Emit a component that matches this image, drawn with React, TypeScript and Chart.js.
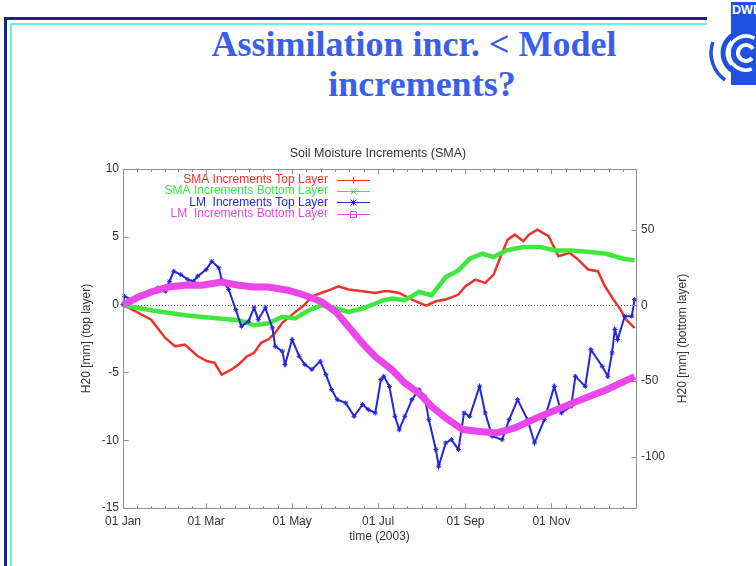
import React, { useEffect, useRef } from "react";
import { Chart, registerables } from "chart.js";

Chart.register(...registerables);

const SLIDE_TITLE_LINE1 = "Assimilation incr. < Model";
const SLIDE_TITLE_LINE2 = "increments?";
const LOGO_TEXT = "DWD";
const CHART_TITLE = "Soil Moisture Increments (SMA)";
const X_TITLE = "time (2003)";
const Y_TITLE = "H20 [mm] (top layer)";
const Y2_TITLE = "H20 [mm] (bottom layer)";

const MONTH_DAYS = [0, 59, 120, 181, 243, 304];
const MONTH_LABELS = ["01 Jan", "01 Mar", "01 May", "01 Jul", "01 Sep", "01 Nov"];
const Y_TICKS = [-15, -10, -5, 0, 5, 10];
const Y2_TICKS = [-100, -50, 0, 50];

const SERIES_LABELS = [
  "SMA Increments Top Layer",
  "SMA Increments Bottom Layer",
  "LM  Increments Top Layer",
  "LM  Increments Bottom Layer",
];

// SMA increments, top layer (left axis, mm)
const SMA_TOP_DAYS = [0, 20, 30, 37, 44, 53, 60, 65, 70, 77, 82, 88, 93, 98, 103, 108, 113, 120, 129, 134, 144, 153, 160, 170, 179, 185, 189, 196, 205, 215, 222, 229, 238, 243, 250, 257, 263, 268, 273, 278, 284, 288, 294, 302, 309, 317, 323, 330, 337, 342, 348, 353, 357, 363];
const SMA_TOP_VALUES = [0, -1.11, -2.46, -3.08, -2.95, -3.81, -4.18, -4.3, -5.16, -4.79, -4.42, -3.81, -3.56, -2.82, -2.58, -2.09, -1.35, -0.74, 0, 0.61, 0.98, 1.35, 1.11, 0.98, 0.86, 0.98, 0.98, 0.86, 0.37, -0.07, 0.24, 0.37, 0.74, 1.35, 1.84, 1.6, 2.21, 3.56, 4.79, 5.16, 4.67, 5.16, 5.53, 5.04, 3.56, 3.81, 3.32, 2.58, 2.46, 1.35, 0.37, -0.37, -1.11, -1.72];

// SMA increments, bottom layer (right axis, mm)
const SMA_BOTTOM_DAYS = [0, 20, 44, 68, 82, 93, 103, 113, 122, 132, 141, 151, 160, 170, 179, 185, 191, 200, 210, 219, 229, 238, 246, 255, 263, 272, 284, 296, 307, 319, 331, 343, 355, 363];
const SMA_BOTTOM_VALUES = [0, -3.3, -6.6, -8.75, -9.9, -13.2, -12, -7.7, -8.75, -3.3, 0, -2.2, -4.4, -2.2, 1.1, 3.3, 4.4, 3.3, 8.75, 6.6, 18.6, 23, 30.7, 34, 31.8, 36.2, 38.4, 38.4, 36.2, 36.2, 35.1, 34, 30.7, 29.6];

// LM increments, top layer (left axis, mm)
const LM_TOP_DAYS = [0, 1, 6, 13, 20, 25, 30, 33, 36, 41, 46, 50, 53, 59, 63, 68, 70, 75, 80, 84, 89, 93, 96, 101, 106, 108, 113, 115, 120, 125, 129, 134, 140, 144, 148, 152, 158, 164, 170, 174, 179, 183, 185, 189, 193, 196, 200, 205, 210, 214, 217, 222, 224, 229, 233, 238, 242, 246, 253, 257, 262, 269, 274, 280, 287, 292, 299, 306, 311, 318, 321, 328, 332, 340, 344, 347, 349, 351, 356, 361, 363];
const LM_TOP_VALUES = [0, 0.61, 0.37, 0.74, 0.98, 1.23, 0.98, 1.72, 2.46, 2.21, 1.84, 1.72, 2.09, 2.58, 3.19, 2.71, 1.84, 1.11, -0.37, -1.6, -1.23, -0.24, -1.11, -0.24, -1.72, -3.08, -3.44, -4.42, -2.58, -3.81, -4.42, -4.79, -4.18, -5.16, -6.27, -7.01, -7.25, -8.24, -7.37, -7.74, -7.99, -5.53, -5.29, -6.03, -8.24, -9.22, -8.24, -7.01, -6.27, -6.76, -8.48, -10.69, -11.92, -10.2, -9.96, -10.69, -7.99, -8.24, -6.03, -7.99, -9.71, -9.96, -8.48, -7.01, -8.48, -10.2, -8.48, -6.03, -7.99, -7.5, -5.29, -6.03, -3.32, -4.55, -5.29, -3.56, -1.84, -2.58, -0.86, -0.86, 0.37];

// LM increments, bottom layer (right axis, mm)
const LM_BOTTOM_DAYS = [0, 11, 20, 32, 44, 56, 70, 82, 93, 103, 117, 129, 141, 151, 160, 170, 179, 185, 191, 200, 210, 219, 229, 241, 253, 265, 278, 296, 319, 343, 363];
const LM_BOTTOM_VALUES = [0, 5.5, 8.75, 12, 13.2, 13.2, 15.3, 13.2, 12, 12, 9.9, 6.6, 2.2, -4.4, -14.3, -25.2, -34, -38.4, -42.8, -51.5, -58.1, -66.9, -74.5, -82.2, -83.4, -84.4, -81.1, -73.5, -64.7, -55.9, -47.2];

const COLORS = ["#e8342a", "#3fe83f", "#2626d6", "#ea46ea"];
const LEGEND_MARKERS = ["plus", "cross", "star", "box"];
const FONT_FAMILY = "'Liberation Sans', Arial, Helvetica, sans-serif";
const TEXT_COLOR = "#333333";
const FRAME_COLOR = "#8f8f8f";
const LOGO_BLUE = "#1f50e0";

function pts(days: number[], vals: number[]) {
  return days.map((d, i) => ({ x: d, y: vals[i] }));
}

function drawMarker(ctx: CanvasRenderingContext2D, kind: string, x: number, y: number, s: number) {
  ctx.beginPath();
  if (kind === "plus" || kind === "star") {
    ctx.moveTo(x - s, y);
    ctx.lineTo(x + s, y);
    ctx.moveTo(x, y - s);
    ctx.lineTo(x, y + s);
  }
  if (kind === "cross" || kind === "star") {
    ctx.moveTo(x - s, y - s);
    ctx.lineTo(x + s, y + s);
    ctx.moveTo(x - s, y + s);
    ctx.lineTo(x + s, y - s);
  }
  if (kind === "box") {
    ctx.rect(x - s, y - s, 2 * s, 2 * s);
  }
  ctx.stroke();
}

const gnuplotFrame = {
  id: "gnuplotFrame",
  beforeDatasetsDraw(chart: any) {
    const { ctx, chartArea: a, scales } = chart;
    const y0 = Math.round(scales.y.getPixelForValue(0)) + 0.5;
    ctx.save();
    ctx.strokeStyle = "#555555";
    ctx.lineWidth = 1;
    ctx.setLineDash([1, 2]);
    ctx.beginPath();
    ctx.moveTo(a.left, y0);
    ctx.lineTo(a.right, y0);
    ctx.stroke();
    ctx.restore();
  },
  afterDraw(chart: any) {
    const { ctx, chartArea: a, scales } = chart;
    const L = Math.round(a.left) + 0.5;
    const R = Math.round(a.right) + 0.5;
    const T = Math.round(a.top) + 0.5;
    const B = Math.round(a.bottom) + 0.5;
    ctx.save();
    ctx.strokeStyle = FRAME_COLOR;
    ctx.lineWidth = 1;
    ctx.beginPath();
    ctx.rect(L, T, R - L, B - T);
    ctx.stroke();

    ctx.beginPath();
    Y_TICKS.forEach((v) => {
      const p = Math.round(scales.y.getPixelForValue(v)) + 0.5;
      ctx.moveTo(L, p);
      ctx.lineTo(L + 5, p);
    });
    Y2_TICKS.forEach((v) => {
      const p = Math.round(scales.y2.getPixelForValue(v)) + 0.5;
      ctx.moveTo(R, p);
      ctx.lineTo(R - 5, p);
    });
    const majors = MONTH_DAYS.concat([365]);
    for (let i = 0; i < majors.length - 1; i++) {
      const a0 = majors[i];
      const a1 = majors[i + 1];
      for (let k = 0; k < 6; k++) {
        const d = a0 + ((a1 - a0) * k) / 6;
        if (d > 364) continue;
        const p = Math.round(scales.x.getPixelForValue(d)) + 0.5;
        const len = k === 0 ? 5 : 2.5;
        ctx.moveTo(p, B);
        ctx.lineTo(p, B - len);
        ctx.moveTo(p, T);
        ctx.lineTo(p, T + len);
      }
    }
    ctx.stroke();

    ctx.font = "12px " + FONT_FAMILY;
    ctx.textAlign = "right";
    ctx.textBaseline = "middle";
    chart.data.datasets.forEach((ds: any, i: number) => {
      const yy = a.top + 11 + i * 11.2;
      ctx.fillStyle = ds.borderColor;
      ctx.fillText(ds.label, a.left + 205, yy);
      ctx.strokeStyle = ds.borderColor;
      ctx.lineWidth = 1;
      ctx.beginPath();
      ctx.moveTo(a.left + 214, Math.round(yy) + 0.5);
      ctx.lineTo(a.left + 247, Math.round(yy) + 0.5);
      ctx.stroke();
      drawMarker(ctx, LEGEND_MARKERS[i], a.left + 230.5, Math.round(yy) + 0.5, 3);
    });

    ctx.save();
    ctx.translate(683, (a.top + a.bottom) / 2);
    ctx.rotate(-Math.PI / 2);
    ctx.textAlign = "center";
    ctx.textBaseline = "middle";
    ctx.fillStyle = TEXT_COLOR;
    ctx.fillText(Y2_TITLE, 0, 0);
    ctx.restore();
    ctx.restore();
  },
};

function SoilChart() {
  const ref = useRef<HTMLCanvasElement | null>(null);
  useEffect(() => {
    if (!ref.current) return;
    Chart.defaults.font.family = FONT_FAMILY;
    Chart.defaults.font.size = 12;
    Chart.defaults.color = TEXT_COLOR;
    const tickFont = { family: FONT_FAMILY, size: 12 };
    const chart = new Chart(ref.current, {
      type: "line",
      data: {
        datasets: [
          {
            label: SERIES_LABELS[0],
            data: pts(SMA_TOP_DAYS, SMA_TOP_VALUES),
            borderColor: COLORS[0],
            borderWidth: 2.5,
            pointRadius: 0,
            yAxisID: "y",
            order: 3,
            clip: false as any,
          },
          {
            label: SERIES_LABELS[1],
            data: pts(SMA_BOTTOM_DAYS, SMA_BOTTOM_VALUES),
            borderColor: COLORS[1],
            borderWidth: 4.5,
            pointRadius: 0,
            yAxisID: "y2",
            order: 2,
            clip: false as any,
          },
          {
            label: SERIES_LABELS[2],
            data: pts(LM_TOP_DAYS, LM_TOP_VALUES),
            borderColor: COLORS[2],
            borderWidth: 2,
            pointRadius: 2.5,
            pointStyle: "star",
            pointBorderWidth: 1,
            pointBorderColor: COLORS[2],
            yAxisID: "y",
            order: 1,
            clip: false as any,
          },
          {
            label: SERIES_LABELS[3],
            data: pts(LM_BOTTOM_DAYS, LM_BOTTOM_VALUES),
            borderColor: COLORS[3],
            borderWidth: 7,
            pointRadius: 0,
            yAxisID: "y2",
            order: 0,
            clip: false as any,
          },
        ],
      },
      options: {
        responsive: false,
        animation: false,
        devicePixelRatio: 1,
        layout: { padding: 0 },
        plugins: {
          legend: { display: false },
          tooltip: { enabled: false },
          title: {
            display: true,
            text: CHART_TITLE,
            color: TEXT_COLOR,
            font: { family: FONT_FAMILY, size: 12.5, weight: "normal", lineHeight: 1.15 },
            padding: { top: 6, bottom: 8.6 },
          },
        },
        scales: {
          x: {
            type: "linear",
            min: 0,
            max: 364,
            grid: { display: false, drawTicks: false },
            border: { display: false },
            afterBuildTicks: (s: any) => {
              s.ticks = MONTH_DAYS.map((v) => ({ value: v }));
            },
            afterFit: (s: any) => {
              s.height = 52;
            },
            ticks: {
              autoSkip: false,
              maxRotation: 0,
              minRotation: 0,
              padding: 6,
              color: TEXT_COLOR,
              font: tickFont,
              callback: (v: any) => MONTH_LABELS[MONTH_DAYS.indexOf(Number(v))],
            },
            title: {
              display: true,
              text: X_TITLE,
              color: TEXT_COLOR,
              font: tickFont,
              padding: { top: 0, bottom: 16 },
            },
          },
          y: {
            type: "linear",
            position: "left",
            min: -15,
            max: 10,
            grid: { display: false, drawTicks: false },
            border: { display: false },
            afterBuildTicks: (s: any) => {
              s.ticks = Y_TICKS.map((v) => ({ value: v }));
            },
            afterFit: (s: any) => {
              s.width = 123;
            },
            ticks: { padding: 4, color: TEXT_COLOR, font: tickFont },
            title: {
              display: true,
              text: Y_TITLE,
              color: TEXT_COLOR,
              font: tickFont,
              padding: { top: 79, bottom: 0 },
            },
          },
          y2: {
            type: "linear",
            position: "right",
            min: -134,
            max: 90,
            grid: { display: false, drawTicks: false },
            border: { display: false },
            afterBuildTicks: (s: any) => {
              s.ticks = Y2_TICKS.map((v) => ({ value: v }));
            },
            afterFit: (s: any) => {
              s.width = 120;
            },
            ticks: { padding: 5, color: TEXT_COLOR, font: tickFont },
          },
        },
      } as any,
      plugins: [gnuplotFrame],
    });
    return () => chart.destroy();
  }, []);
  return (
    <canvas
      ref={ref}
      width={756}
      height={420}
      style={{ position: "absolute", left: 0, top: 140, width: 756, height: 420 }}
    />
  );
}

function Logo() {
  return (
    <svg
      width={56}
      height={90}
      viewBox="0 0 56 90"
      style={{ position: "absolute", left: 700, top: 0 }}
    >
      <rect x={31} y={2} width={25} height={83} fill={LOGO_BLUE} />
      <path d="M 40.4 73.7 A 21 21 0 0 1 42.2 32.1" fill="none" stroke={LOGO_BLUE} strokeWidth={5} />
      <path d="M 25.1 80 A 33 33 0 0 1 12.9 42" fill="none" stroke={LOGO_BLUE} strokeWidth={3.5} />
      <path d="M 52.9 49 A 8 8 0 1 0 52.1 58.1" fill="none" stroke="#ffffff" strokeWidth={4} />
      <path d="M 54.5 38.3 A 17 17 0 1 0 51.8 69" fill="none" stroke="#ffffff" strokeWidth={3.5} />
      <text
        x={32}
        y={14}
        fill="#ffffff"
        fontFamily="'Liberation Sans', Arial, sans-serif"
        fontWeight="bold"
        fontSize={12}
        textLength={30}
        lengthAdjust="spacingAndGlyphs"
      >
        {LOGO_TEXT}
      </text>
    </svg>
  );
}

export default function App() {
  const titleStyle: React.CSSProperties = {
    position: "absolute",
    width: 500,
    textAlign: "center",
    fontFamily: "'Liberation Serif', 'Times New Roman', serif",
    fontWeight: "bold",
    fontSize: 36,
    lineHeight: "40px",
    color: "#3c5fe9",
    whiteSpace: "nowrap",
  };
  return (
    <div
      style={{
        position: "absolute",
        left: 0,
        top: 0,
        width: 756,
        height: 566,
        overflow: "hidden",
        background: "#ffffff",
      }}
    >
      <div style={{ position: "absolute", left: 4, top: 17, width: 703, height: 3, background: "#0b2a8f" }} />
      <div style={{ position: "absolute", left: 4, top: 17, width: 3, height: 549, background: "#0b2a8f" }} />
      <div style={{ position: "absolute", left: 10, top: 23, width: 697, height: 2, background: "#70eeee" }} />
      <div style={{ position: "absolute", left: 10, top: 23, width: 2, height: 543, background: "#70eeee" }} />
      <div style={{ ...titleStyle, left: 164, top: 24 }}>{SLIDE_TITLE_LINE1}</div>
      <div style={{ ...titleStyle, left: 172, top: 64 }}>{SLIDE_TITLE_LINE2}</div>
      <Logo />
      <SoilChart />
    </div>
  );
}
